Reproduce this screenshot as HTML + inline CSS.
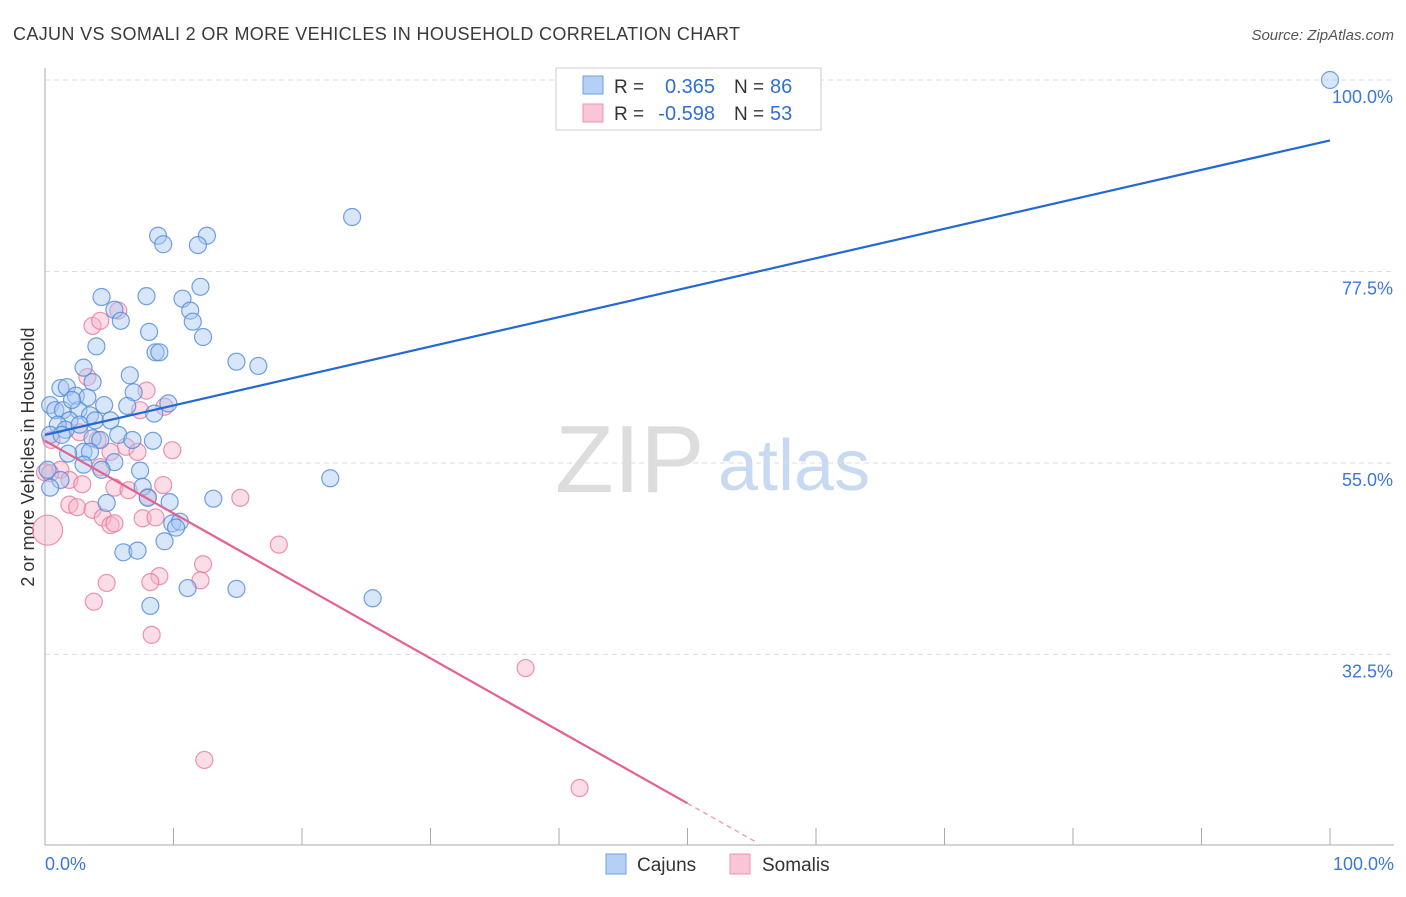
<!DOCTYPE html>
<html><head><meta charset="utf-8"><style>
body{margin:0;background:#fff;font-family:"Liberation Sans",sans-serif}
svg text{font-family:"Liberation Sans",sans-serif}
</style></head><body>
<svg id="chart" width="1406" height="892" xmlns="http://www.w3.org/2000/svg">
<text x="13" y="40" font-size="18" fill="#3a3a3a" textLength="727" lengthAdjust="spacing">CAJUN VS SOMALI 2 OR MORE VEHICLES IN HOUSEHOLD CORRELATION CHART</text>
<text x="1394" y="40" font-size="15" fill="#555" font-style="italic" text-anchor="end">Source: ZipAtlas.com</text>
<text x="0" y="0" transform="translate(34,457) rotate(-90)" font-size="18" fill="#333" text-anchor="middle">2 or more Vehicles in Household</text>
<text x="555" y="492" font-size="96" fill="#ddd" font-family="Liberation Serif">ZIP</text>
<text x="718" y="490" font-size="72" fill="#c8daf2">atlas</text>
<g id="grid"></g><g id="axes"></g><g id="pts"></g><g id="lines"></g>
<g>
<rect x="556" y="68" width="265" height="62" fill="#fff" stroke="#ccc"/>
<rect x="583" y="76" width="20" height="18" fill="#b4d0f5" stroke="#6f9fe0"/>
<rect x="583" y="104" width="20" height="18" fill="#f8c6d6" stroke="#ec93b0"/>
<text x="614" y="93" font-size="19" fill="#333">R =</text>
<text x="715" y="93" font-size="20" fill="#2f6fd6" text-anchor="end">0.365</text>
<text x="734" y="93" font-size="19" fill="#333">N =</text>
<text x="770" y="93" font-size="20" fill="#2f6fd6">86</text>
<text x="614" y="120" font-size="19" fill="#333">R =</text>
<text x="715" y="120" font-size="20" fill="#2f6fd6" text-anchor="end">-0.598</text>
<text x="734" y="120" font-size="19" fill="#333">N =</text>
<text x="770" y="120" font-size="20" fill="#2f6fd6">53</text>
</g>
<g>
<rect x="606" y="854" width="20" height="20" fill="#b4d0f5" stroke="#6f9fe0"/>
<text x="637" y="871" font-size="19" fill="#333">Cajuns</text>
<rect x="730" y="854" width="20" height="20" fill="#f8c6d6" stroke="#ec93b0"/>
<text x="762" y="871" font-size="19" fill="#333">Somalis</text>
</g>
</svg>
<script>
const yTicks=[100,77.5,55,32.5];
const yTickLabels=["100.0%","77.5%","55.0%","32.5%"];
const xTickLabels=["0.0%","100.0%"];
const cajunX=[100,23.9,8.8,9.2,12.6,11.9,4.4,7.9,12.1,10.7,5.4,11.3,5.9,11.5,8.1,12.3,4.0,8.6,8.9,14.9,16.6,3.0,6.6,3.7,1.2,1.7,6.9,2.4,3.3,9.6,6.4,4.6,0.4,0.8,1.4,2.6,3.5,8.5,1.9,3.9,5.1,1.0,1.6,0.4,1.3,3.7,4.3,5.7,6.8,8.4,3.0,3.5,1.8,5.4,3.0,4.4,7.4,22.2,1.2,0.4,4.8,7.6,8.0,9.7,13.1,9.9,10.5,10.2,9.3,6.1,7.2,11.1,14.9,8.2,25.5,2.1,2.7,0.2];
const cajunY=[100,83.9,81.7,80.7,81.7,80.6,74.5,74.6,75.7,74.3,73.0,72.9,71.7,71.6,70.4,69.8,68.7,68.0,68.0,66.9,66.4,66.2,65.3,64.5,63.8,63.9,63.3,62.9,62.7,62.0,61.7,61.8,61.8,61.2,61.2,61.2,60.6,60.8,60.0,60.0,60.0,59.5,58.9,58.3,58.3,57.9,57.7,58.3,57.7,57.6,56.3,56.3,56.1,55.1,54.8,54.2,54.1,53.2,53.0,52.1,50.3,52.2,50.9,50.4,50.8,47.9,48.1,47.4,45.8,44.5,44.7,40.3,40.2,38.2,39.1,62.4,59.5,54.2];
const somaliX=[0.5,0.2,3.7,4.3,5.7,3.3,7.9,9.3,7.4,2.7,4.1,6.3,9.9,5.1,7.2,4.3,1.2,0,1.9,2.9,5.4,6.5,8.0,15.2,9.2,1.9,2.5,3.7,4.5,7.6,8.6,5.1,5.4,18.2,12.3,12.1,8.9,4.8,8.2,3.8,8.3,37.4,12.4,41.6,0.4];
const somaliY=[57.7,47.1,71.1,71.7,72.9,65.1,63.5,61.6,61.2,58.6,57.7,56.9,56.5,56.3,56.3,54.5,54.2,53.9,53.0,52.5,52.1,51.8,51.0,50.9,52.4,50.1,49.8,49.5,48.6,48.5,48.6,47.7,47.9,45.4,43.1,41.2,41.7,40.9,41.0,38.7,34.8,30.9,20.1,16.8,53.8];
const cajunTrend=[58.3,92.9];
const somaliTrend=[57.6,15.0];
const NS="http://www.w3.org/2000/svg";
const X=v=>45+v*12.85, Y=v=>80+(100-v)*8.51;
function mk(t,a,p){const e=document.createElementNS(NS,t);for(const k in a)e.setAttribute(k,a[k]);document.getElementById(p).appendChild(e);return e;}
yTicks.forEach((t,i)=>{
 const g=mk('line',{x1:45,x2:1394,y1:Y(t),y2:Y(t),stroke:'#ddd','stroke-dasharray':'5,4'},'grid');
 
 
 const tx=mk('text',{x:1393,y:Y(t)+23,'font-size':18,fill:'#3a78d8','text-anchor':'end'},'axes');
 tx.textContent=yTickLabels[i];
 
 
});
const ax=mk('line',{x1:45,x2:45,y1:68,y2:845,stroke:'#aaa'},'axes');


const bx=mk('line',{x1:45,x2:1394,y1:845,y2:845,stroke:'#aaa'},'axes');


for(let i=0;i<=10;i++){const t=mk('line',{x1:X(i*10),x2:X(i*10),y1:828,y2:845,stroke:'#aaa'},'axes');
 
 }
[[0,'start',45],[1,'end',1394]].forEach(([i,a,x])=>{const t=mk('text',{x:x,y:870,'font-size':18,fill:'#3a78d8','text-anchor':a},'axes');t.textContent=xTickLabels[i];
 
 });
function pts(xs,ys,fill,stroke,name){xs.forEach((x,i)=>{
 const r=(x<0.6&&(ys[i]<48||Math.abs(ys[i]-53)<0.2))?15:8.5;
 const c=mk('circle',{cx:X(x),cy:Y(ys[i]),r:r,fill:fill,'fill-opacity':0.45,stroke:stroke,'stroke-opacity':0.8,'stroke-width':1.2},'pts');
 
 });}
pts(somaliX,somaliY,'#f5b3c8','#e8799d','somali-point');
pts(cajunX,cajunY,'#a9c8f2','#4f88dc','cajun-point');
const bl=mk('line',{x1:X(0),y1:Y(cajunTrend[0]),x2:X(100),y2:Y(cajunTrend[1]),stroke:'#2468d4','stroke-width':2.2},'lines');


const sl=(somaliTrend[1]-somaliTrend[0])/50;
const pl=mk('line',{x1:X(0),y1:Y(somaliTrend[0]),x2:X(50),y2:Y(somaliTrend[1]),stroke:'#e5608f','stroke-width':2.2},'lines');


const pd=mk('line',{x1:X(50),y1:Y(somaliTrend[1]),x2:X(55.3),y2:Y(somaliTrend[0]+sl*55.3),stroke:'#f0a0bc','stroke-width':1.5,'stroke-dasharray':'5,4'},'lines');


</script>
</body></html>
